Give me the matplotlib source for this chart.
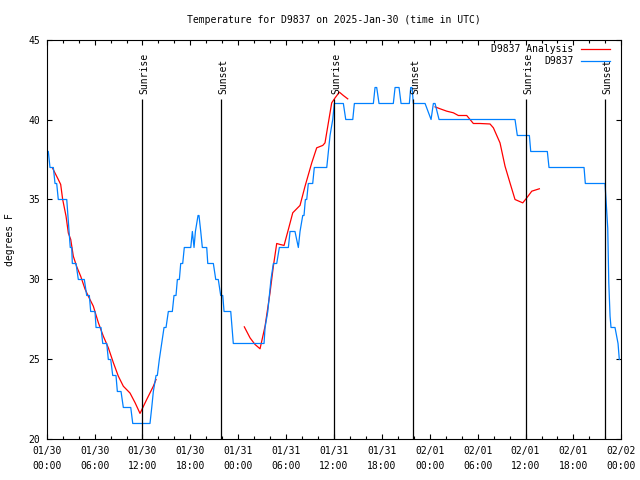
import matplotlib
matplotlib.use('Agg')
import matplotlib.pyplot as plt
import numpy as np

plt.rcParams['font.family'] = 'DejaVu Sans Mono'
plt.rcParams['font.size'] = 7

# hours since 2025-01-30 00:00 UTC
obs_hours = [0.2, 0.41, 0.83, 1.04, 1.25, 1.45, 2.51, 2.65, 2.8, 2.95, 3.13, 3.21, 3.67,
             3.96, 4.71, 5.01, 5.34, 5.51, 6.05, 6.18, 6.8, 7.02, 7.52, 7.72, 8.02, 8.27,
             8.68, 8.85, 9.31, 9.6, 10.53, 10.78, 12.94, 13.16, 13.36, 13.7, 13.86, 14.11,
             14.41, 14.7, 14.95, 15.24, 15.74, 15.95, 16.2, 16.37, 16.62, 16.79, 17.04,
             17.24, 18.05, 18.25, 18.46, 18.63, 18.96, 19.08, 19.3, 19.5, 20.05, 20.18,
             20.88, 21.18, 21.5, 21.8, 22.06, 22.22, 23.06, 23.22, 23.38, 27.23, 27.36,
             27.7, 27.9, 28.1, 28.4, 28.82, 29.15, 30.28, 30.49, 31.11, 31.53, 31.74,
             32.08, 32.24, 32.41, 32.58, 32.78, 33.33, 33.53, 35.09, 35.29, 35.5, 35.84,
             36.04, 37.17, 37.47, 38.35, 38.55, 40.93, 41.14, 41.35, 41.64, 43.43, 43.65,
             44.15, 44.4, 45.44, 45.61, 45.78, 45.94, 47.41, 48.16, 48.45, 48.66, 49.16,
             58.68, 58.97, 60.48, 60.65, 62.73, 62.94, 67.33, 67.49, 69.96, 70.3, 70.43,
             70.59, 70.71, 71.21, 71.4, 71.59, 71.75]
obs_temps = [38, 37, 37, 36, 36, 35, 35, 34, 33, 32, 32, 31, 31,
             30, 30, 29, 29, 28, 28, 27, 27, 26, 26, 25, 25, 24,
             24, 23, 23, 22, 22, 21, 21, 22, 23, 24, 24, 25,
             26, 27, 27, 28, 28, 29, 29, 30, 30, 31, 31,
             32, 32, 33, 32, 33, 34, 34, 33, 32, 32, 31,
             31, 30, 30, 29, 29, 28, 28, 27, 26, 26, 27,
             28, 29, 30, 31, 31, 32, 32, 33, 33, 32, 33,
             34, 34, 35, 35, 36, 36, 37, 37, 38, 39, 40,
             41, 41, 40, 40, 41, 41, 42, 42, 41, 41, 42,
             42, 41, 41, 42, 42, 41, 41, 40, 41, 41, 40,
             40, 39, 39, 38, 38, 37, 37, 36, 36, 33.2, 29.8,
             27.7, 27, 27, 26.5, 26, 25]

# analysis series, nan marks the gaps
ana_hours = [0.75, 1.45, 1.75, 2.0, 2.42, 2.71, 3.01, 3.33, 3.76, 4.26, 4.8, 5.21, 5.84,
             6.47, 7.09, 7.72, 8.35, 8.97, 9.6, 10.44, 11.07, 11.69, 12.53, 13.36, 13.7,
             np.nan,
             24.76, 25.48, 26.1, 26.73, 27.36, 27.98, 28.4, 28.82, 29.24, 29.74, 30.28,
             30.83, 31.74, 32.37, 33.21, 33.83, 34.59, 34.87, 35.29, 35.71, 36.13, 36.67,
             37.17, 37.72,
             np.nan,
             48.66, 49.29, 50.13, 50.95, 51.58, 52.63, 53.46, 54.3, 55.55, 55.97, 56.8,
             57.43, 58.05, 58.68, 59.65, 60.15, 60.78, 61.73]
ana_temps = [36.94, 36.25, 35.94, 35.0, 33.96, 32.9, 32.5, 31.46, 30.8, 30.2, 29.4, 28.96, 28.33,
             27.3, 26.46, 25.73, 24.8, 23.96, 23.33, 22.9, 22.3, 21.63, 22.5, 23.33, 23.75,
             np.nan,
             27.04, 26.35, 25.94, 25.67, 27.08, 29.17, 30.83, 32.25, 32.19, 32.13, 33.13,
             34.17, 34.63, 35.83, 37.29, 38.23, 38.38, 38.54, 39.79, 41.04, 41.35, 41.71,
             41.5, 41.29,
             np.nan,
             40.79, 40.67, 40.52, 40.42, 40.25, 40.25, 39.75, 39.75, 39.72, 39.48, 38.54,
             37.08, 36.04, 35.0, 34.79, 35.1, 35.52, 35.67]

sun_hours = [11.98, 21.9, 36.04, 45.94, 60.1, 70.0]
sun_labels = ['Sunrise', 'Sunset', 'Sunrise', 'Sunset', 'Sunrise', 'Sunset']

tick_labels = ['01/30\n00:00', '01/30\n06:00', '01/30\n12:00', '01/30\n18:00',
               '01/31\n00:00', '01/31\n06:00', '01/31\n12:00', '01/31\n18:00',
               '02/01\n00:00', '02/01\n06:00', '02/01\n12:00', '02/01\n18:00',
               '02/02\n00:00']

fig = plt.figure(figsize=(6.4, 4.8), dpi=100)
ax = fig.add_axes([0.073, 0.0844, 0.8978, 0.8333])

ax.plot(ana_hours, ana_temps, color='#ff0000', lw=0.9, label='D9837 Analysis')
ax.plot(obs_hours, obs_temps, color='#0080ff', lw=0.9, label='D9837')

ax.vlines(sun_hours, 20, 41.3, color='black', lw=0.9)
for h, s in zip(sun_hours, sun_labels):
    ax.text(h + 0.2, 41.6, s, rotation=90, ha='center', va='bottom')

ax.set_xlim(0, 72)
ax.set_ylim(20, 45)
ax.set_xticks(np.arange(0, 73, 6))
ax.set_xticklabels(tick_labels)
for lbl in ax.get_xticklabels():
    lbl.set_linespacing(1.55)
ax.set_xticks(np.arange(0, 73, 2), minor=True)
ax.set_yticks(np.arange(20, 46, 5))
ax.tick_params(which='both', direction='in', top=True, right=True, width=0.8)
ax.tick_params(which='major', length=3.4, pad=5)
ax.tick_params(which='minor', length=2.2)
for sp in ax.spines.values():
    sp.set_linewidth(0.8)

ax.legend(loc='upper right', bbox_to_anchor=(609.5 / 640, 1 - 44 / 480),
          bbox_transform=fig.transFigure, frameon=False, markerfirst=False,
          borderpad=0, borderaxespad=0, handlelength=2.9, handletextpad=0.8,
          labelspacing=0.25)

fig.text(334 / 640, 1 - 20 / 480, 'Temperature for D9837 on 2025-Jan-30 (time in UTC)',
         ha='center', va='center')
fig.text(10 / 640, 0.5, 'degrees F', rotation=90, ha='center', va='center')

fig.savefig('out.png', dpi=100)
